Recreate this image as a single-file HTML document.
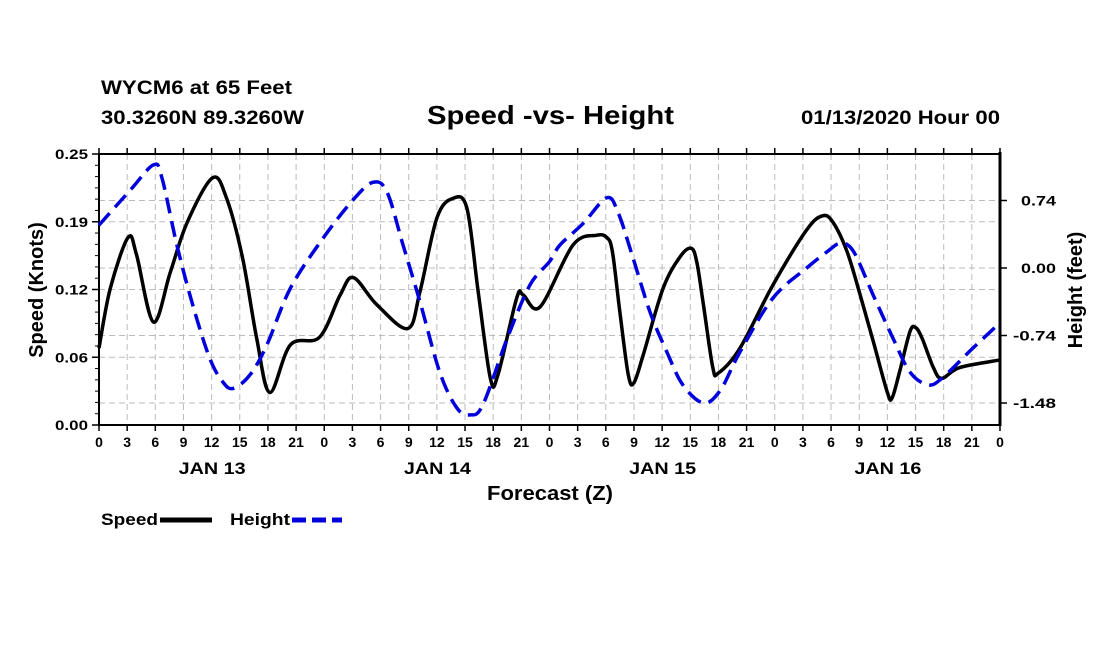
<!DOCTYPE html>
<html><head><meta charset="utf-8"><style>
body{margin:0;background:#fff;}
svg text{font-family:"Liberation Sans",sans-serif;font-weight:bold;fill:#000;}
</style></head><body>
<svg id="chart" width="1100" height="650" viewBox="0 0 1100 650" xmlns="http://www.w3.org/2000/svg">
<rect width="1100" height="650" fill="#fff"/>
<text x="101" y="94" font-size="19" textLength="191" lengthAdjust="spacingAndGlyphs">WYCM6 at 65 Feet</text>
<text x="101" y="124" font-size="19" textLength="203" lengthAdjust="spacingAndGlyphs">30.3260N 89.3260W</text>
<text x="427" y="124" font-size="26" textLength="247" lengthAdjust="spacingAndGlyphs">Speed -vs- Height</text>
<text x="801" y="124" font-size="19" textLength="199" lengthAdjust="spacingAndGlyphs">01/13/2020 Hour 00</text>
<g id="grid"></g>
<g id="axes"></g>
<g id="series"></g>
<text x="487" y="500" font-size="20" textLength="126" lengthAdjust="spacingAndGlyphs">Forecast (Z)</text>
<text transform="translate(43,290) rotate(-90)" font-size="20" text-anchor="middle">Speed (Knots)</text>
<text transform="translate(1082,290) rotate(-90)" font-size="20" text-anchor="middle">Height (feet)</text>
<g>
<text x="101" y="525" font-size="17" textLength="57" lengthAdjust="spacingAndGlyphs">Speed</text>
<line x1="160" y1="520" x2="212" y2="520" stroke="#000" stroke-width="5"/>
<text x="230" y="525" font-size="17" textLength="60" lengthAdjust="spacingAndGlyphs">Height</text>
<line x1="292" y1="520" x2="342" y2="520" stroke="#0000dd" stroke-width="5" stroke-dasharray="14,6"/>
</g>
</svg>
<script>
const speedHours=[0,1.2,3.1,4,5.8,7.6,9.4,12.1,13.6,15.3,16.8,18.2,20.4,23.5,25.7,27.1,29.6,32.9,34.2,36,37.7,39.2,40.4,41.7,42.5,44.5,45.2,47,50.5,53,54.1,54.7,55.5,56.4,57,58,60.1,61.9,63.1,63.7,64.4,65.4,66,68.3,71.8,75.4,77.1,78.2,79.7,81.1,82.5,84,84.5,85.3,86.4,87,87.7,88.9,89.8,91.7,96];
const speedValues=[0.071,0.126,0.173,0.157,0.095,0.141,0.187,0.228,0.209,0.154,0.080,0.030,0.074,0.081,0.120,0.136,0.111,0.089,0.123,0.191,0.209,0.200,0.123,0.043,0.046,0.117,0.120,0.109,0.166,0.175,0.173,0.160,0.104,0.046,0.039,0.065,0.126,0.155,0.163,0.150,0.111,0.053,0.048,0.071,0.129,0.180,0.193,0.187,0.160,0.120,0.077,0.030,0.025,0.049,0.086,0.090,0.080,0.053,0.043,0.053,0.060];
const heightHours=[0,3.3,5.8,6.7,8.3,10,11.8,13.2,14.3,16.1,17.9,20.4,23.9,27.1,29.2,30.7,32.4,34.2,36.3,38.1,39.5,40.9,43.5,45.9,48,49.1,51.6,54.1,55.3,56.9,58.7,60.5,62.2,64.4,66.2,68.3,71.8,75.4,77.6,79,80.4,82.5,84.6,86.4,88.3,89.8,93.1,96];
const heightValues=[0.47,0.85,1.13,0.99,0.25,-0.41,-0.99,-1.25,-1.32,-1.17,-0.84,-0.22,0.33,0.75,0.94,0.83,0.25,-0.37,-1.14,-1.53,-1.61,-1.50,-0.77,-0.19,0.07,0.25,0.49,0.77,0.61,0.11,-0.48,-0.92,-1.28,-1.48,-1.34,-0.92,-0.33,0.00,0.18,0.27,0.18,-0.30,-0.77,-1.14,-1.28,-1.21,-0.88,-0.60];
const speedTicks=["0.00","0.06","0.12","0.19","0.25"];
const heightTicks=["-1.48","-0.74","0.00","0.74"];
const hourLabels=["0","3","6","9","12","15","18","21"];
const dayLabels=["JAN 13","JAN 14","JAN 15","JAN 16"];

const L=99,R=1000,T=154,B=425;
const NS="http://www.w3.org/2000/svg";
const xS=h=>L+(R-L)*h/96;
const yS=v=>B-(B-T)*v/0.25;
const yH=v=>268-v*(67.5/0.74);
function mk(tag,attrs,parent){const e=document.createElementNS(NS,tag);for(const k in attrs)e.setAttribute(k,attrs[k]);parent.appendChild(e);return e;}
const grid=document.getElementById('grid'),axes=document.getElementById('axes'),series=document.getElementById('series');
for(let i=0;i<=32;i++){
  const x=xS(i*3);
  if(i>0&&i<32){const g=mk('line',{x1:x,y1:T,x2:x,y2:B,stroke:'#bbb','stroke-width':1,'stroke-dasharray':'6,4'},grid);
  
  }
  mk('line',{x1:x,y1:B,x2:x,y2:B+6,stroke:'#000','stroke-width':1.5},axes);
  mk('line',{x1:x,y1:T,x2:x,y2:T-6,stroke:'#000','stroke-width':1.5},axes);
  const t=mk('text',{x:x,y:B+22,'font-size':14,'text-anchor':'middle'},axes);
  t.textContent=i===32?"0":hourLabels[i%8];
  
  
}
dayLabels.forEach((d,i)=>{const t=mk('text',{x:xS(12+24*i)-33,y:B+49,'font-size':17,textLength:67,lengthAdjust:'spacingAndGlyphs'},axes);t.textContent=d;

});
speedTicks.forEach((s,i)=>{const v=i*0.0625,y=yS(v);
  if(i>0&&i<4){const g=mk('line',{x1:L,y1:y,x2:R,y2:y,stroke:'#bbb','stroke-width':1,'stroke-dasharray':'6,4'},grid);
  
  }
  mk('line',{x1:L-7,y1:y,x2:L,y2:y,stroke:'#000','stroke-width':1.5},axes);
  const t=mk('text',{x:55,y:y+5,'font-size':14,textLength:33,lengthAdjust:'spacingAndGlyphs'},axes);t.textContent=s;
  
  
});
for(let j=0;j<=24;j++){const y=B-(B-T)*j/24;mk('line',{x1:L-4,y1:y,x2:L,y2:y,stroke:'#000','stroke-width':1},axes);}
heightTicks.forEach(s=>{const y=yH(parseFloat(s));
  const g=mk('line',{x1:L,y1:y,x2:R,y2:y,stroke:'#bbb','stroke-width':1,'stroke-dasharray':'6,4'},grid);
  
  
  mk('line',{x1:R,y1:y,x2:R+7,y2:y,stroke:'#000','stroke-width':1.5},axes);
  const w=s.length===5?43:35;
  const t=mk('text',{x:1056-w,y:y+5,'font-size':14,textLength:w,lengthAdjust:'spacingAndGlyphs'},axes);t.textContent=s;
  
  
});
mk('rect',{x:L,y:T,width:R-L,height:B-T,fill:'none',stroke:'#000','stroke-width':2},axes);
mk('line',{x1:R,y1:T-2,x2:R,y2:B+1,stroke:'#000','stroke-width':3},axes);
function smooth(pts){let d=`M${pts[0][0]},${pts[0][1]}`;
  for(let i=0;i<pts.length-1;i++){const p0=pts[Math.max(0,i-1)],p1=pts[i],p2=pts[i+1],p3=pts[Math.min(pts.length-1,i+2)];
    d+=` C${p1[0]+(p2[0]-p0[0])/6},${p1[1]+(p2[1]-p0[1])/6} ${p2[0]-(p3[0]-p1[0])/6},${p2[1]-(p3[1]-p1[1])/6} ${p2[0]},${p2[1]}`;}
  return d;}
const sp=mk('path',{d:smooth(speedHours.map((h,i)=>[xS(h),yS(speedValues[i])])),fill:'none',stroke:'#000','stroke-width':3.5},series);


const hp=mk('path',{d:smooth(heightHours.map((h,i)=>[xS(h),yH(heightValues[i])])),fill:'none',stroke:'#0000dd','stroke-width':3.5,'stroke-dasharray':'16,8'},series);


</script>
</body></html>
